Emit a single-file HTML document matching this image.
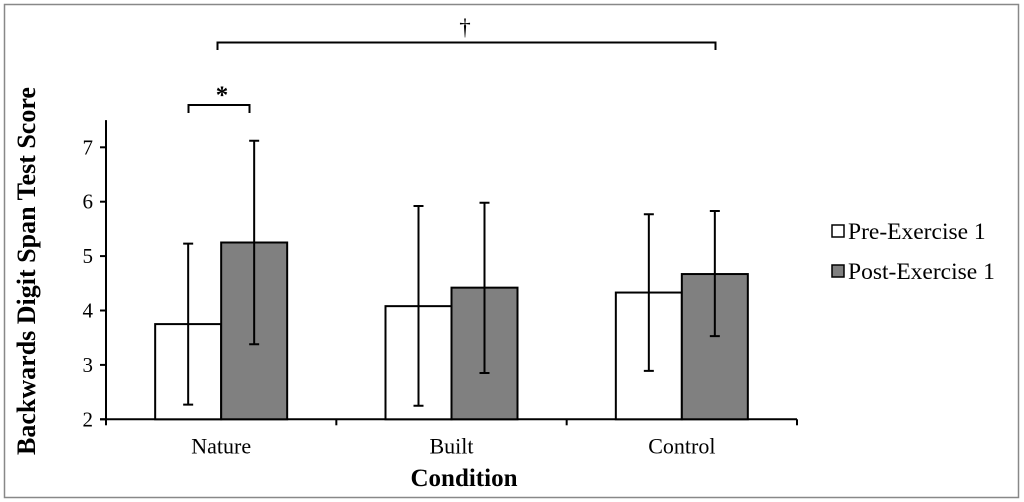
<!DOCTYPE html>
<html><head><meta charset="utf-8"><style>
html,body{margin:0;padding:0;background:#fff;}
svg{display:block;font-family:"Liberation Serif",serif;}
</style></head><body>
<svg width="1024" height="502">
<rect x="4.5" y="4.5" width="1014" height="493" fill="#fff" stroke="#888" stroke-width="1.5"/>
<g id="plot"></g>
<text x="465" y="35" text-anchor="middle" font-size="23">†</text>
<path d="M217.5 50 V42.5 H715.5 V50" fill="none" stroke="#000" stroke-width="2"/>
<text x="222" y="103" text-anchor="middle" font-size="25" font-weight="bold">*</text>
<path d="M188.5 113 V105 H249.5 V113" fill="none" stroke="#000" stroke-width="2"/>
<text transform="translate(35,271) rotate(-90)" text-anchor="middle" font-size="26" font-weight="bold">Backwards Digit Span Test Score</text>
<text x="464" y="486" text-anchor="middle" font-size="25" font-weight="bold">Condition</text>
<g>
<rect x="832" y="225" width="12" height="12" fill="#fff" stroke="#000" stroke-width="1.5"/>
<text x="848" y="239" font-size="23.5">Pre-Exercise 1</text>
<rect x="832" y="265" width="12" height="12" fill="#808080" stroke="#000" stroke-width="1.5"/>
<text x="848" y="279" font-size="23.5">Post-Exercise 1</text>
</g>
</svg>
<script>
const categories=["Nature","Built","Control"];
const preValues=[3.75,4.08,4.33];
const preErrHigh=[5.23,5.92,5.77];
const preErrLow=[2.27,2.25,2.89];
const postValues=[5.25,4.42,4.67];
const postErrHigh=[7.12,5.98,5.83];
const postErrLow=[3.38,2.85,3.53];
const yTicks=[2,3,4,5,6,7];
const NS="http://www.w3.org/2000/svg";
const g=document.getElementById('plot');
const x0=106,x1=797,y0=419.3,yMin=2,yPer=54.4;
const yS=v=>y0-(v-yMin)*yPer;
const catW=(x1-x0)/categories.length;
const xC=i=>x0+catW*(i+0.5);
function mk(t,a){const e=document.createElementNS(NS,t);for(const k in a)e.setAttribute(k,a[k]);g.appendChild(e);return e;}
let e=mk('line',{x1:x0,y1:yS(7.5),x2:x0,y2:y0,stroke:'#000','stroke-width':2});


e=mk('line',{x1:x0-6,y1:y0,x2:x1,y2:y0,stroke:'#000','stroke-width':2});


yTicks.forEach(v=>{
 let t=mk('line',{x1:x0-6,y1:yS(v),x2:x0,y2:yS(v),stroke:'#000','stroke-width':2});
 
 
 let l=mk('text',{x:x0-13,y:yS(v)+7,'text-anchor':'end','font-size':21});
 l.textContent=v;
 
 
});
for(let i=0;i<=categories.length;i++){
 let t=mk('line',{x1:x0+catW*i,y1:y0,x2:x0+catW*i,y2:y0+6,stroke:'#000','stroke-width':2});
 
 
}
const bw=66;
function errBar(cx,hi,lo,name){
 const p=mk('path',{d:`M${cx-5} ${yS(hi)} H${cx+5} M${cx} ${yS(hi)} V${yS(lo)} M${cx-5} ${yS(lo)} H${cx+5}`,stroke:'#000','stroke-width':2,fill:'none'});
 
 
}
categories.forEach((c,i)=>{
 const cx=xC(i);
 let b=mk('rect',{x:cx-bw,y:yS(preValues[i]),width:bw,height:y0-yS(preValues[i]),fill:'#fff',stroke:'#000','stroke-width':2});
 
 
 b=mk('rect',{x:cx,y:yS(postValues[i]),width:bw,height:y0-yS(postValues[i]),fill:'#808080',stroke:'#000','stroke-width':2});
 
 
 errBar(cx-bw/2,preErrHigh[i],preErrLow[i],'error-bar-pre-'+c.toLowerCase());
 errBar(cx+bw/2,postErrHigh[i],postErrLow[i],'error-bar-post-'+c.toLowerCase());
 let l=mk('text',{x:cx,y:y0+34,'text-anchor':'middle','font-size':22});
 l.textContent=c;
 
 
});
</script>
</body></html>
